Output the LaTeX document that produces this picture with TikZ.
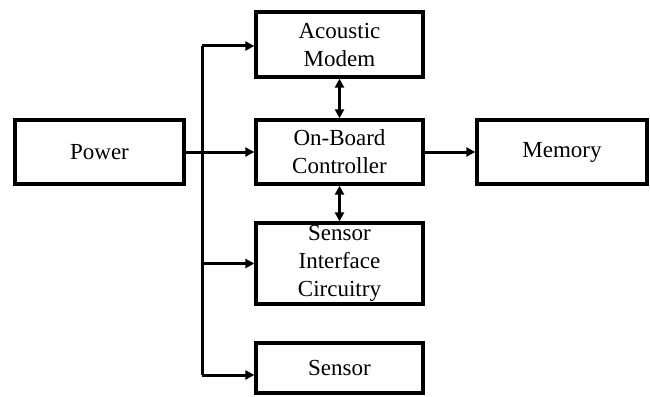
\documentclass[tikz,border=0pt]{standalone}
\usepackage{fontspec}
\setmainfont{Liberation Serif}
\usetikzlibrary{arrows.meta}

\begin{document}
\begin{tikzpicture}[x=1pt,y=-1pt,
    block/.style={draw,line width=3.3pt,inner sep=0pt,align=center,
      font=\fontsize{23}{28}\selectfont},
    link/.style={line width=3pt,-{Triangle[length=9pt,width=9pt]}},
    dlink/.style={line width=3pt,{Triangle[length=9pt,width=9pt]}-{Triangle[length=9pt,width=9pt]}}]
    \useasboundingbox (0,0) rectangle (650,396);
    % define coordinates
    \coordinate (top) at (202,46) ;
    \coordinate (bot) at (202,375) ;
    % blocks
    \node[block,minimum width=169pt,minimum height=64pt] (power) at (99.5,152) {Power};
    \node[block,minimum width=167pt,minimum height=65pt] (modem) at (339.5,44.5) {Acoustic\\Modem};
    \node[block,minimum width=167pt,minimum height=64pt] (ctrl) at (339.5,152) {On-Board\\Controller};
    \node[block,minimum width=170pt,minimum height=64pt] (mem) at (562,152) {Memory};
    \node[block,minimum width=167pt,minimum height=81pt] (sic) at (339.5,263.5) {Sensor\\Interface\\Circuitry};
    \node[block,minimum width=167pt,minimum height=50pt] (sensor) at (339.5,368) {Sensor};
    % power bus
    \draw[line width=3pt] (top) -- (bot);
    \draw[link] (top) -- (top -| modem.west);
    \draw[link] (power.east) -- (ctrl.west);
    \draw[link] (top |- sic.west) -- (sic.west);
    \draw[link] (bot) -- (bot -| sensor.west);
    % data links
    \draw[dlink] (modem) -- (ctrl);
    \draw[dlink] (ctrl) -- (sic);
    \draw[link] (ctrl.east) -- (mem.west);
\end{tikzpicture}
\end{document}
